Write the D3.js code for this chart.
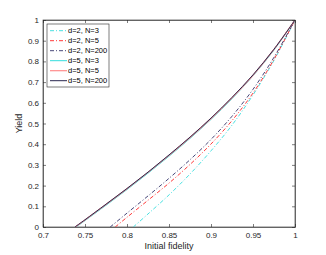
<!DOCTYPE html>
<html><head><meta charset="utf-8">
<script src="https://cdn.jsdelivr.net/npm/d3@7"></script>
<style>body{margin:0;background:#fff}svg{display:block}text{font-family:"Liberation Sans",Arial,sans-serif}</style>
</head><body><svg id="c" width="326" height="255"></svg>
<script>
// Data
const seriesNames = ["d=2, N=3","d=2, N=5","d=2, N=200","d=5, N=3","d=5, N=5","d=5, N=200"];
const d2N3_f = [0.8075,0.825,0.85,0.875,0.9,0.925,0.95,0.975,1];
const d2N3_y = [0,0.063,0.155,0.256,0.368,0.492,0.638,0.805,1];
const d2N5_f = [0.786,0.8,0.825,0.85,0.875,0.9,0.925,0.95,0.975,1];
const d2N5_y = [0,0.047,0.129,0.212,0.302,0.401,0.514,0.647,0.81,1];
const d2N200_f = [0.78,0.8,0.825,0.85,0.875,0.9,0.925,0.95,0.975,1];
const d2N200_y = [0,0.067,0.150,0.235,0.325,0.423,0.535,0.665,0.82,1];
const d5N3_f = [0.7395,0.75,0.775,0.8,0.825,0.85,0.875,0.9,0.925,0.95,0.975,1];
const d5N3_y = [0,0.031,0.105,0.181,0.260,0.342,0.428,0.520,0.620,0.730,0.855,1];
const d5N5_f = [0.7385,0.75,0.775,0.8,0.825,0.85,0.875,0.9,0.925,0.95,0.975,1];
const d5N5_y = [0,0.034,0.109,0.185,0.264,0.346,0.432,0.524,0.624,0.733,0.858,1];
const d5N200_f = [0.738,0.75,0.775,0.8,0.825,0.85,0.875,0.9,0.925,0.95,0.975,1];
const d5N200_y = [0,0.035,0.110,0.186,0.265,0.348,0.434,0.526,0.626,0.735,0.859,1];
const xTicks = [0.7,0.75,0.8,0.85,0.9,0.95,1];
const yTicks = [0,0.1,0.2,0.3,0.4,0.5,0.6,0.7,0.8,0.9,1];

const series = [
  {name:seriesNames[0], f:d2N3_f, y:d2N3_y, color:"#33dddd", dash:"4,2,1,2", w:0.9},
  {name:seriesNames[1], f:d2N5_f, y:d2N5_y, color:"#ff2222", dash:"4,2,1,2", w:0.9},
  {name:seriesNames[2], f:d2N200_f, y:d2N200_y, color:"#33336a", dash:"4,2,1,2", w:0.9},
  {name:seriesNames[3], f:d5N3_f, y:d5N3_y, color:"#33dddd", dash:null, w:1},
  {name:seriesNames[4], f:d5N5_f, y:d5N5_y, color:"#ff8c8c", dash:null, w:1.2},
  {name:seriesNames[5], f:d5N200_f, y:d5N200_y, color:"#2a2850", dash:null, w:1}
];

const svg = d3.select("#c");
const L=43, R=295, T=20, B=227;
const x = d3.scaleLinear().domain([0.7,1]).range([L,R]);
const y = d3.scaleLinear().domain([0,1]).range([B,T]);
const axisCol = "#262626";

// frame
svg.append("rect").attr("x",L).attr("y",T).attr("width",R-L).attr("height",B-T)
  .attr("fill","#fff").attr("stroke",axisCol).attr("stroke-width",0.6);

const g = svg.append("g");
svg.append("clipPath").attr("id","cp").append("rect")
  .attr("x",L).attr("y",T).attr("width",R-L).attr("height",B-T);
const line = d3.line().x(d=>x(d[0])).y(d=>y(d[1])).curve(d3.curveCatmullRom.alpha(0.5));
series.forEach(s=>{
  const pts = s.f.map((v,i)=>[v,s.y[i]]);
  g.append("path").attr("d",line(pts)).attr("fill","none")
   .attr("stroke",s.color).attr("stroke-width",s.w)
   .attr("stroke-dasharray",s.dash).attr("clip-path","url(#cp)");
});

// axes (MATLAB style inward ticks)
const xa = d3.axisBottom(x).tickValues(xTicks).tickSizeInner(-3).tickSizeOuter(0).tickPadding(5)
  .tickFormat(d=>d3.format("")(+d.toFixed(2)));
const ya = d3.axisLeft(y).tickValues(yTicks).tickSizeInner(-3).tickSizeOuter(0).tickPadding(4)
  .tickFormat(d=>d3.format("")(+d.toFixed(1)));
const gx = svg.append("g").attr("transform",`translate(0,${B})`).call(xa);
const gy = svg.append("g").attr("transform",`translate(${L},0)`).call(ya);
const gx2 = svg.append("g").attr("transform",`translate(0,${T})`).call(d3.axisTop(x).tickValues(xTicks).tickSizeInner(-3).tickSizeOuter(0).tickFormat(""));
const gy2 = svg.append("g").attr("transform",`translate(${R},0)`).call(d3.axisRight(y).tickValues(yTicks).tickSizeInner(-3).tickSizeOuter(0).tickFormat(""));
[gx,gy,gx2,gy2].forEach(a=>{
  a.select(".domain").attr("stroke",axisCol).attr("stroke-width",0.6);
  a.selectAll(".tick line").attr("stroke",axisCol).attr("stroke-width",0.6);
  a.selectAll("text").attr("fill","#262626").style("font-size","8px").style("font-family","'Liberation Sans',Arial,sans-serif");
});

svg.append("text").attr("x",(L+R)/2).attr("y",249).attr("text-anchor","middle")
  .attr("fill","#262626").style("font-size","9px").text("Initial fidelity");
svg.append("text").attr("transform",`translate(22,${(T+B)/2}) rotate(-90)`).attr("text-anchor","middle")
  .attr("fill","#262626").style("font-size","9px").text("Yield");

// legend
const lg = svg.append("g");
lg.append("rect").attr("x",47).attr("y",24).attr("width",62).attr("height",63)
  .attr("fill","#fff").attr("stroke",axisCol).attr("stroke-width",0.6);
series.forEach((s,i)=>{
  const cy = 30.7 + i*10;
  lg.append("line").attr("x1",50).attr("x2",67).attr("y1",cy).attr("y2",cy)
    .attr("stroke",s.color).attr("stroke-width",s.w).attr("stroke-dasharray",s.dash);
  lg.append("text").attr("x",68).attr("y",cy+2.7).attr("fill","#000")
    .style("font-size","7.5px").text(s.name);
});
</script></body></html>
